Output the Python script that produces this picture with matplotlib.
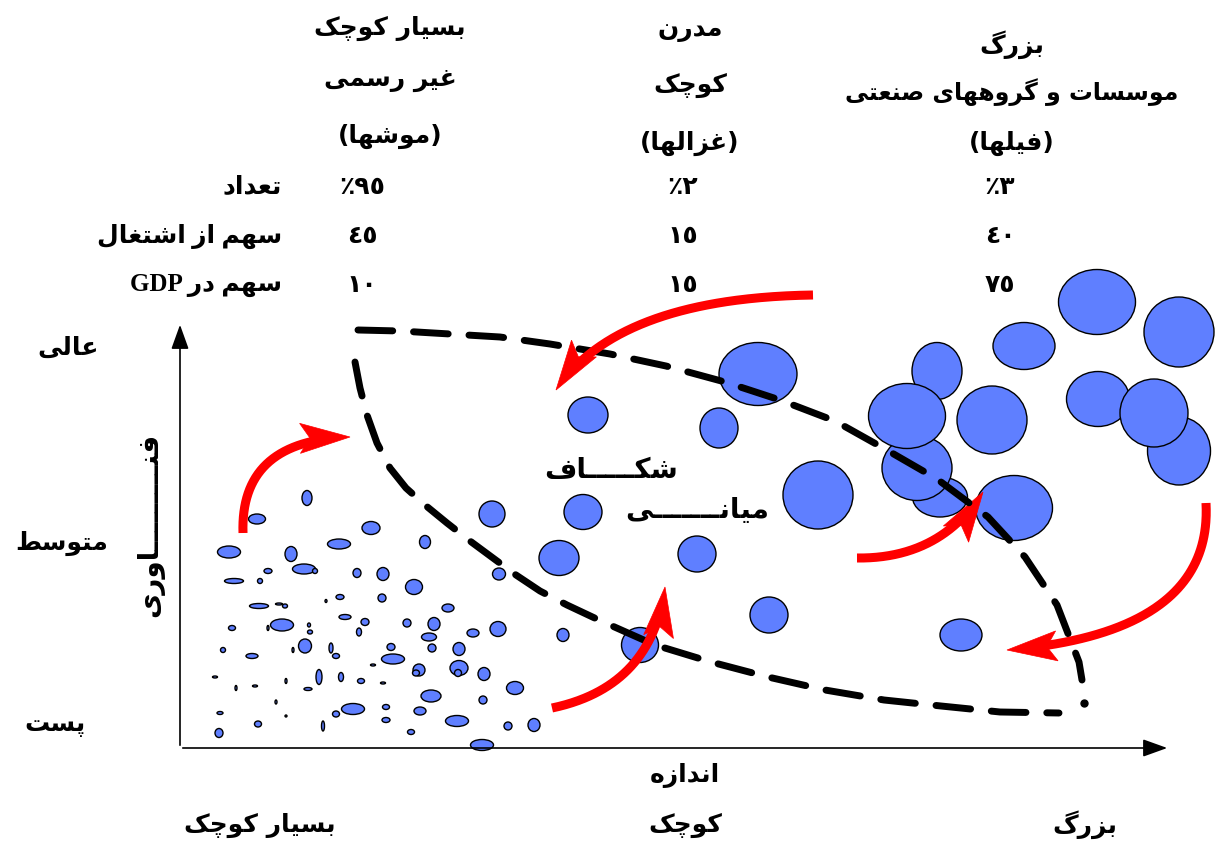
import numpy as np
import matplotlib.pyplot as plt
from matplotlib.patches import Ellipse, Polygon

# --- persian shaping (matplotlib has no bidi / joining) ---
def _four(b):
    return (b, b + 1, b + 2, b + 3)

FORMS = {
    'ا': (0xFE8D, 0xFE8E), 'آ': (0xFE81, 0xFE82), 'د': (0xFEA9, 0xFEAA),
    'ذ': (0xFEAB, 0xFEAC), 'ر': (0xFEAD, 0xFEAE), 'ز': (0xFEAF, 0xFEB0),
    'ژ': (0xFB8A, 0xFB8B), 'و': (0xFEED, 0xFEEE),
    'ب': _four(0xFE8F), 'پ': _four(0xFB56), 'ت': _four(0xFE95), 'ث': _four(0xFE99),
    'ج': _four(0xFE9D), 'چ': _four(0xFB7A), 'ح': _four(0xFEA1), 'خ': _four(0xFEA5),
    'س': _four(0xFEB1), 'ش': _four(0xFEB5), 'ص': _four(0xFEB9), 'ض': _four(0xFEBD),
    'ط': _four(0xFEC1), 'ظ': _four(0xFEC5), 'ع': _four(0xFEC9), 'غ': _four(0xFECD),
    'ف': _four(0xFED1), 'ق': _four(0xFED5), 'ک': _four(0xFB8E), 'گ': _four(0xFB92),
    'ل': _four(0xFEDD), 'م': _four(0xFEE1), 'ن': _four(0xFEE5), 'ه': _four(0xFEE9),
    'ی': _four(0xFBFC), 'ـ': (0x640,) * 4,
}

def fa(text):
    out = []
    for i, c in enumerate(text):
        if c not in FORMS:
            out.append(c)
            continue
        prev = text[i - 1] if i > 0 else ''
        nxt = text[i + 1] if i + 1 < len(text) else ''
        jp = prev in FORMS and len(FORMS[prev]) == 4
        jn = nxt in FORMS and len(FORMS[c]) == 4
        f = FORMS[c]
        if jp and jn:
            g = f[3]
        elif jp:
            g = f[1]
        elif jn:
            g = f[2]
        else:
            g = f[0]
        out.append(chr(g))
    return ''.join(reversed(out))

# --- data ---
col_titles = [['بسیار کوچک', 'غیر رسمی', 'موشها'],
              ['مدرن', 'کوچک', 'غزالها'],
              ['بزرگ', 'موسسات و گروههای صنعتی', 'فیلها']]
col_x = [390, 690, 1012]
title_y = [[28, 80, 136], [30, 85, 143], [45, 92, 143]]

row_labels = ['تعداد', 'سهم از اشتغال', 'سهم در']
row_y = [187, 236, 285]
row_values = [['٪٩٥', '٪٢', '٪٣'],
              ['٤٥', '١٥', '٤٠'],
              ['١٠', '١٥', '٧٥']]
value_x = [362, 683, 1000]

y_levels = ['عالی', 'متوسط', 'پست']
y_level_pos = [(68, 348), (62, 543), (55, 725)]
x_levels = ['بسیار کوچک', 'کوچک', 'بزرگ']
x_level_pos = [(260, 825), (685, 825), (1085, 825)]

# small informal firms (x, y, w, h)
small = [(307, 498, 10, 15), (257, 519, 17, 10), (371, 528, 18, 13), (229, 552, 23, 12),
         (291, 554, 12, 15), (339, 544, 23, 10), (304, 569, 23, 10), (315, 571, 5, 5),
         (268, 571, 8, 5), (234, 581, 19, 5), (260, 581, 5, 5), (357, 573, 8, 9),
         (383, 574, 12, 13), (326, 601, 2, 3), (340, 597, 8, 5), (382, 598, 8, 8),
         (259, 606, 19, 5), (279, 604, 7, 2), (285, 606, 5, 4), (345, 617, 12, 5),
         (365, 622, 8, 7), (232, 628, 7, 5), (268, 628, 2, 5), (282, 625, 23, 12),
         (309, 625, 3, 4), (310, 632, 5, 4), (359, 632, 5, 8), (223, 650, 5, 5),
         (252, 656, 12, 5), (293, 650, 2, 5), (305, 646, 13, 14), (331, 648, 4, 10),
         (336, 656, 7, 5), (373, 665, 5, 2), (215, 677, 5, 2), (236, 688, 2, 5),
         (255, 686, 5, 2), (286, 681, 2, 5), (319, 677, 6, 15), (341, 677, 5, 9),
         (361, 681, 7, 5), (308, 689, 8, 3), (276, 702, 2, 4), (353, 709, 23, 11),
         (336, 714, 7, 6), (220, 713, 6, 3), (258, 724, 7, 6), (286, 716, 2, 2),
         (323, 726, 3, 10), (219, 733, 8, 9),
         (492, 514, 26, 26), (425, 542, 11, 13), (499, 574, 13, 12), (414, 587, 17, 15),
         (448, 608, 12, 8), (407, 623, 8, 8), (434, 624, 12, 13), (473, 633, 12, 8),
         (498, 629, 16, 15), (429, 637, 15, 8), (391, 647, 8, 7), (432, 648, 8, 8),
         (459, 649, 12, 13), (393, 659, 23, 10), (419, 670, 12, 12), (416, 673, 7, 6),
         (459, 668, 18, 15), (458, 673, 7, 7), (484, 674, 12, 13), (383, 683, 5, 2),
         (515, 688, 17, 13), (431, 696, 20, 12), (483, 700, 8, 8), (386, 707, 7, 5),
         (420, 711, 12, 8), (457, 721, 23, 11), (386, 720, 8, 5), (508, 726, 8, 8),
         (534, 725, 12, 13), (411, 732, 7, 5), (482, 745, 23, 11)]

medium = [(588, 415, 40, 36), (719, 428, 38, 40), (583, 512, 38, 35), (559, 558, 40, 35),
          (697, 554, 38, 36), (769, 615, 38, 36), (563, 635, 12, 13), (640, 645, 37, 35)]

large = [(758, 374, 78, 63), (818, 495, 70, 68), (961, 635, 42, 32), (937, 371, 50, 57),
         (940, 497, 55, 40), (917, 468, 70, 65), (907, 416, 77, 65), (992, 420, 70, 68),
         (1014, 508, 77, 65), (1024, 346, 62, 47), (1097, 302, 77, 65), (1179, 332, 70, 70),
         (1098, 399, 63, 55), (1179, 451, 63, 68), (1154, 413, 68, 68)]

# dashed boundary of the "missing middle"
gap_upper = [(358, 330), (400, 331), (450, 334), (500, 337), (550, 344), (610, 354),
             (666, 366), (725, 382), (780, 400), (835, 421), (885, 449), (937, 479),
             (988, 517), (1025, 557), (1057, 605), (1079, 662), (1082, 680)]
gap_lower = [(355, 362), (360, 388), (367, 415), (377, 443), (390, 468), (406, 488),
             (425, 505), (447, 523), (470, 541), (493, 558), (516, 575), (540, 591),
             (567, 605), (601, 621), (655, 645), (711, 662), (768, 677), (825, 690),
             (884, 700), (941, 706), (1000, 712), (1059, 713)]
gap_dot = (1084, 703)

# red arrows: start, control, tip
arrows = [[(813, 295), (618, 298), (556, 390)],
          [(243, 533), (240, 440), (350, 437)],
          [(552, 708), (652, 687), (665, 587)],
          [(857, 558), (940, 559), (983, 492)],
          [(1206, 503), (1213, 633), (1007, 650)]]

origin = (180, 748)
x_end = (1170, 748)
y_end = (180, 322)

# --- plot ---
plt.rcParams['font.family'] = ['DejaVu Sans']
fig = plt.figure(figsize=(12.23, 8.48), dpi=100)
ax = fig.add_axes([0, 0, 1, 1])
ax.set_xlim(0, 1223)
ax.set_ylim(848, 0)
ax.axis('off')

blue = '#5f7fff'
for x, y, w, h in small + medium + large:
    ax.add_patch(Ellipse((x, y), w, h, fc=blue, ec='black', lw=1.0))

for pts in [gap_upper, gap_lower]:
    pts = np.array(pts)
    ax.plot(pts[:, 0], pts[:, 1], color='black', lw=5, dashes=(5, 3),
            dash_capstyle='round', solid_joinstyle='round')
ax.plot(*gap_dot, 'o', color='black', ms=5)

# curved red arrows with barbed heads
head_len, head_half = 50, 15
for p0, c, p1 in arrows:
    p0, c, p1 = np.array(p0, float), np.array(c, float), np.array(p1, float)
    t = np.linspace(0, 1, 200)[:, None]
    curve = (1 - t) ** 2 * p0 + 2 * (1 - t) * t * c + t ** 2 * p1
    keep = np.linalg.norm(curve - p1, axis=1) > 0.75 * head_len
    ax.plot(curve[keep, 0], curve[keep, 1], color='red', lw=6.5, solid_capstyle='butt')
    d = (p1 - c) / np.linalg.norm(p1 - c)
    n = np.array([-d[1], d[0]])
    base = p1 - head_len * d
    notch = p1 - 0.8 * head_len * d
    ax.add_patch(Polygon([p1, base + head_half * n, notch, base - head_half * n],
                         closed=True, fc='red', ec='red', lw=0.5))

ax.annotate('', xy=x_end, xytext=origin,
            arrowprops=dict(arrowstyle='-|>,head_length=0.5,head_width=0.18',
                            mutation_scale=30, color='black', lw=1.2))
ax.annotate('', xy=y_end, xytext=origin,
            arrowprops=dict(arrowstyle='-|>,head_length=0.5,head_width=0.18',
                            mutation_scale=30, color='black', lw=1.2))

fs = 18
for i, titles in enumerate(col_titles):
    for j, t in enumerate(titles):
        s = fa(t)
        if j == 2:
            s = '(' + s + ')'
        size = fs - 1 if len(t) > 12 else fs
        ax.text(col_x[i], title_y[i][j], s, ha='center', va='center',
                fontsize=size, fontweight='bold')

for k, lab in enumerate(row_labels):
    s = fa(lab)
    if k == 2:
        s = 'GDP ' + s
    ax.text(282, row_y[k], s, ha='right', va='center', fontsize=fs,
            fontweight='bold', family=['Liberation Serif', 'DejaVu Sans'])
    for i in range(3):
        ax.text(value_x[i], row_y[k], row_values[k][i], ha='center', va='center',
                fontsize=fs, fontweight='bold')

for lab, (x, y) in zip(y_levels, y_level_pos):
    ax.text(x, y, fa(lab), ha='center', va='center', fontsize=fs, fontweight='bold')
for lab, (x, y) in zip(x_levels, x_level_pos):
    ax.text(x, y, fa(lab), ha='center', va='center', fontsize=fs, fontweight='bold')

ax.text(685, 775, fa('اندازه'), ha='center', va='center', fontsize=fs, fontweight='bold')
ax.text(150, 525, fa('فنـــــــــاوری'), ha='center', va='center', rotation=90,
        fontsize=fs + 2, fontweight='bold')
ax.text(611, 470, fa('شکـــــاف'), ha='center', va='center', fontsize=fs + 2, fontweight='bold')
ax.text(697, 510, fa('میانـــــــی'), ha='center', va='center', fontsize=fs + 2,
        fontweight='bold')

fig.savefig('out.png', dpi=100)
